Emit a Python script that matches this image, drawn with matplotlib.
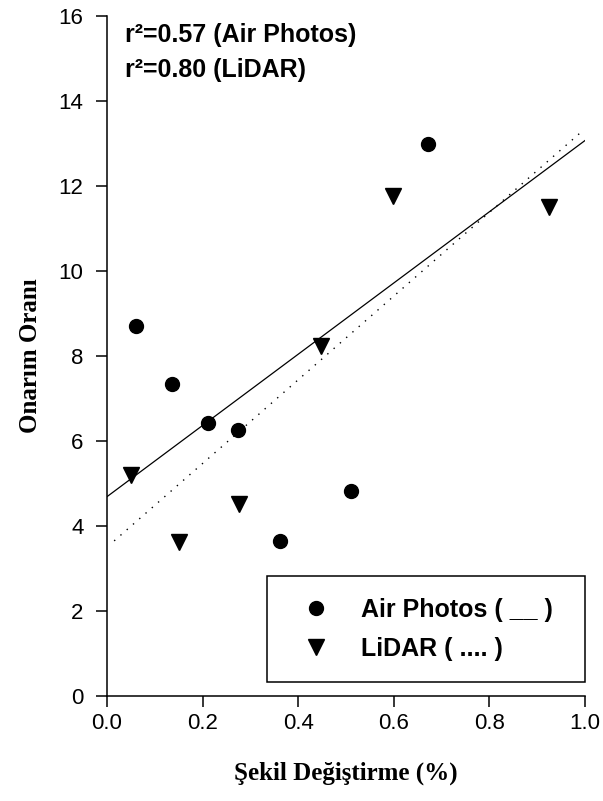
import matplotlib
matplotlib.use("Agg")
import matplotlib.pyplot as plt

# Air Photos (circles)
air_x = [0.060, 0.136, 0.212, 0.275, 0.362, 0.510, 0.672]
air_y = [8.71, 7.33, 6.42, 6.27, 3.65, 4.82, 12.98]
# LiDAR (triangles)
lidar_x = [0.050, 0.151, 0.276, 0.448, 0.599, 0.925]
lidar_y = [5.20, 3.63, 4.52, 8.24, 11.76, 11.50]

# regression lines
air_fit_x = [0.0, 1.0]
air_fit_y = [4.69, 13.07]
lidar_fit_x = [0.015, 0.99]
lidar_fit_y = [3.65, 13.25]

r2_labels = ["r\u00b2=0.57 (Air Photos)", "r\u00b2=0.80 (LiDAR)"]
legend_labels = ["Air Photos ( __ )", "LiDAR ( .... )"]
x_ticks = [0.0, 0.2, 0.4, 0.6, 0.8, 1.0]
y_ticks = [0, 2, 4, 6, 8, 10, 12, 14, 16]

plt.rcParams['font.family'] = ['Liberation Sans', 'DejaVu Sans']

fig = plt.figure(figsize=(6.03, 8.01), dpi=100)
ax = fig.add_axes([107/603, 1-696/801, 478/603, 680/801])

ax.plot(air_fit_x, air_fit_y, color='black', linewidth=0.9)
ax.plot(lidar_fit_x, lidar_fit_y, color='black', linewidth=1.0, linestyle=(0, (1, 5)))
ax.plot(air_x, air_y, 'o', color='black', markersize=10, label=legend_labels[0])
ax.plot(lidar_x, lidar_y, 'v', color='black', markersize=12, label=legend_labels[1])

ax.set_xlim(0, 1.0)
ax.set_ylim(0, 16)
ax.set_xticks(x_ticks)
ax.set_xticklabels(["%.1f" % v for v in x_ticks])
ax.set_yticks(y_ticks)
ax.spines['top'].set_visible(False)
ax.spines['right'].set_visible(False)
for s in ['left', 'bottom']:
    ax.spines[s].set_linewidth(1.1)
ax.tick_params(axis='both', direction='out', length=8, width=1.1, labelsize=16)
ax.tick_params(axis='x', pad=4)
ax.tick_params(axis='y', pad=9)

ax.set_xlabel("Şekil Değiştirme (%)", fontfamily='Liberation Serif', fontweight='bold',
              fontsize=18, labelpad=20)
ax.set_ylabel("Onarım Oranı", fontfamily='Liberation Serif', fontweight='bold',
              fontsize=18, labelpad=12)

ax.text(0.038, 0.99, r2_labels[0], transform=ax.transAxes, fontsize=18,
        fontweight='bold', va='top', ha='left')
ax.text(0.038, 0.938, r2_labels[1], transform=ax.transAxes, fontsize=18,
        fontweight='bold', va='top', ha='left')

leg = ax.legend(loc='center', bbox_to_anchor=(0.335, 0.022, 0.665, 0.153),
                mode='expand', frameon=True, fancybox=False, framealpha=1,
                edgecolor='black', prop={'weight': 'bold', 'size': 18},
                handletextpad=0.7, borderpad=0.85, labelspacing=0.6,
                handlelength=2.2, borderaxespad=0)
leg.get_frame().set_linewidth(1.1)

fig.savefig("out.png", dpi=100)
